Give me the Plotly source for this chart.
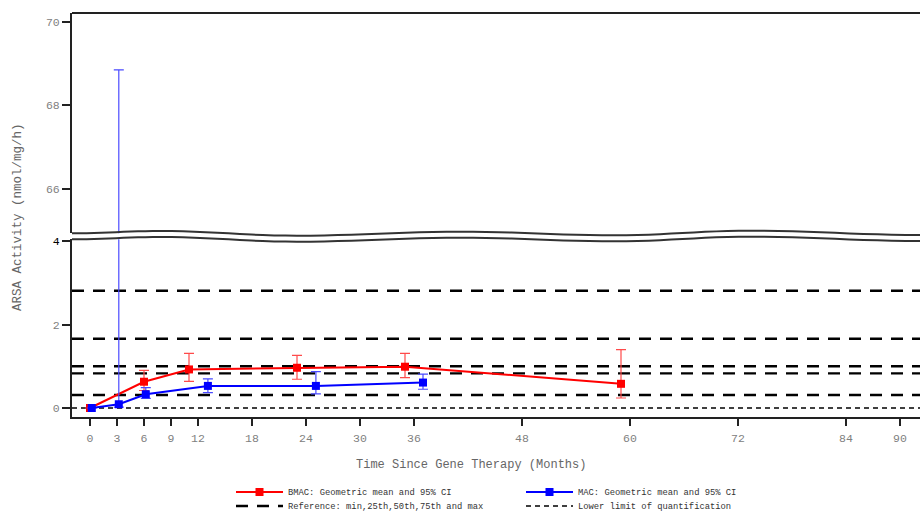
import numpy as np
import plotly.graph_objects as go

# ---------------- data ----------------
bmac_month = [0, 6, 11, 23, 35, 59]
bmac_mean = [0.0, 0.63, 0.925, 0.965, 0.99, 0.58]
bmac_upper = [0.0, 0.90, 1.31, 1.26, 1.31, 1.40]
bmac_lower = [0.0, 0.42, 0.64, 0.69, 0.73, 0.24]

mac_month = [0.2, 3.2, 6.2, 13.1, 25.1, 37.0]
mac_mean = [0.0, 0.09, 0.33, 0.53, 0.53, 0.61]
mac_upper = [0.0, 68.85, 0.49, 0.70, 0.87, 0.81]
mac_lower = [0.0, 0.02, 0.23, 0.37, 0.34, 0.45]

reference_values = [0.31, 0.83, 1.0, 1.66, 2.81]  # min, 25th, 50th, 75th, max
lloq_value = 0.0

x_ticks = [0, 3, 6, 9, 12, 18, 24, 30, 36, 48, 60, 72, 84, 90]
y_low_ticks = [0, 2, 4]
y_high_ticks = [66, 68, 70]

# ---------------- layout geometry (pixels) ----------------
W, H = 920, 513
L, T, B = 72, 13, 96
PW = W - L
PH = H - T - B
def px(xp):
    return (xp - L) / PW
def py(yp):
    return (H - B - yp) / PH
def cy(yp):
    return 1 - yp / H

MONO = "Liberation Mono, DejaVu Sans Mono, monospace"
RED = "#ff0000"
BLUE = "#0000ff"

fig = go.Figure()

def add_series(x, m, up, lo, color, ecolor, name, yaxis, show):
    fig.add_trace(go.Scatter(
        x=x, y=m, mode="lines+markers", name=name, yaxis=yaxis,
        showlegend=show, legend="legend", legendrank=1 if color == RED else 2,
        line=dict(color=color, width=2),
        marker=dict(symbol="square", size=8, color=color),
        error_y=dict(type="data", symmetric=False,
                     array=[u - v for u, v in zip(up, m)],
                     arrayminus=[v - w for v, w in zip(m, lo)],
                     color=ecolor, thickness=1.2, width=5),
    ))

x_span = [-2, 95]
for i, rv in enumerate(reference_values):
    fig.add_trace(go.Scatter(
        x=x_span, y=[rv, rv], mode="lines", yaxis="y",
        name="Reference: min,25th,50th,75th and max",
        showlegend=(i == 0), legend="legend2", legendrank=3,
        line=dict(color="black", width=2.4, dash="12px,9px"),
    ))
fig.add_trace(go.Scatter(
    x=x_span, y=[lloq_value, lloq_value], mode="lines", yaxis="y",
    name="Lower limit of quantification", legend="legend2", legendrank=4,
    line=dict(color="black", width=1.5, dash="5px,4px"),
))

add_series(bmac_month, bmac_mean, bmac_upper, bmac_lower, RED, "#ff4a4a",
           "BMAC: Geometric mean and 95% CI", "y", True)
add_series(mac_month, mac_mean, mac_upper, mac_lower, BLUE, "#4a4aff",
           "MAC: Geometric mean and 95% CI", "y", True)
add_series(bmac_month, bmac_mean, bmac_upper, bmac_lower, RED, "#ff4a4a",
           "BMAC", "y2", False)
add_series(mac_month, mac_mean, mac_upper, mac_lower, BLUE, "#4a4aff",
           "MAC", "y2", False)

# axis ranges from pixel positions (0 at y=408, 70 at y=22, ~41.7 px/unit)
ppu = 41.7
low_top_px, high_bot_px = 239.3, 233.3
low_range = [-(H - B - 408) / ppu, (408 - low_top_px) / ppu]
high_range = [70 - (high_bot_px - 22) / ppu, 70 + (22 - T) / ppu]

tickfont = dict(family=MONO, size=11.5, color="#808080")
legend_common = dict(orientation="h", xref="container", yref="container",
                     x=231 / W, xanchor="left", yanchor="middle",
                     entrywidth=228, entrywidthmode="pixels", itemwidth=47,
                     font=dict(family=MONO, size=8.8, color="#333"),
                     bgcolor="rgba(0,0,0,0)", traceorder="normal")
fig.update_layout(
    width=W, height=H, autosize=False,
    margin=dict(l=L, r=0, t=T, b=B, autoexpand=False),
    paper_bgcolor="white", plot_bgcolor="white",
    showlegend=True,
    xaxis=dict(range=[-2, -2 + PW / 9.0], tickvals=x_ticks,
               ticktext=[str(v) for v in x_ticks],
               showgrid=False, zeroline=False, showline=True,
               linecolor="#222", linewidth=2, ticks="outside", ticklen=7,
               tickwidth=1.5, tickcolor="#222", tickfont=tickfont,
               ticklabelstandoff=2, anchor="y"),
    yaxis=dict(domain=[0, py(low_top_px)], range=low_range,
               tickvals=y_low_ticks,
               ticktext=["0", "2", "<span style='color:#000'>4</span>"],
               showgrid=False, zeroline=False, showline=True,
               linecolor="#222", linewidth=2, ticks="outside", ticklen=8,
               tickwidth=1.5, tickcolor="#222", tickfont=tickfont,
               anchor="x"),
    yaxis2=dict(domain=[py(high_bot_px), 1], range=high_range,
                tickvals=y_high_ticks, ticktext=[str(v) for v in y_high_ticks],
                showgrid=False, zeroline=False, showline=True,
                linecolor="#222", linewidth=2, ticks="outside", ticklen=8,
                tickwidth=1.5, tickcolor="#222", tickfont=tickfont,
                anchor="x"),
    legend=dict(y=cy(492), **legend_common),
    legend2=dict(y=cy(506), **legend_common),
)

# titles
fig.add_annotation(text="Time Since Gene Therapy (Months)", xref="paper",
                   yref="paper", x=px(471), y=py(465), showarrow=False,
                   xanchor="center", yanchor="middle",
                   font=dict(family=MONO, size=12, color="#666"))
fig.add_annotation(text="ARSA Activity (nmol/mg/h)", xref="paper",
                   yref="paper", x=px(18), y=py(217), showarrow=False,
                   xanchor="center", yanchor="middle",
                   textangle=-90, font=dict(family=MONO, size=12.5, color="#666"))

# top frame line
fig.add_shape(type="line", xref="paper", yref="paper", x0=0, x1=1.02,
              y0=1, y1=1, line=dict(color="#222", width=2))

# axis-break wavy lines (decoration)
key_x = [72, 160, 297, 460, 615, 750, 920, 935]
key_up = [233.3, 231.0, 235.7, 231.7, 235.3, 230.7, 235.0, 235.2]
def wave_path(offset):
    pts = []
    for i in range(len(key_x) - 1):
        x0, x1 = key_x[i], key_x[i + 1]
        y0, y1 = key_up[i] + offset, key_up[i + 1] + offset
        for t in np.linspace(0, 1, 12, endpoint=(i == len(key_x) - 2)):
            s = (1 - np.cos(np.pi * t)) / 2
            pts.append((x0 + (x1 - x0) * t, y0 + (y1 - y0) * s))
    return "M " + " L ".join(f"{px(a):.5f},{py(b):.5f}" for a, b in pts)

fig.add_shape(type="path", xref="paper", yref="paper", path=wave_path(0),
              line=dict(color="#333", width=2))
fig.add_shape(type="path", xref="paper", yref="paper", path=wave_path(6.0),
              line=dict(color="#333", width=2))

fig.write_html(
    "out.html",
    config={"responsive": False, "displayModeBar": False},
    post_script="document.body.style.margin='0';document.body.style.overflow='hidden';",
)
